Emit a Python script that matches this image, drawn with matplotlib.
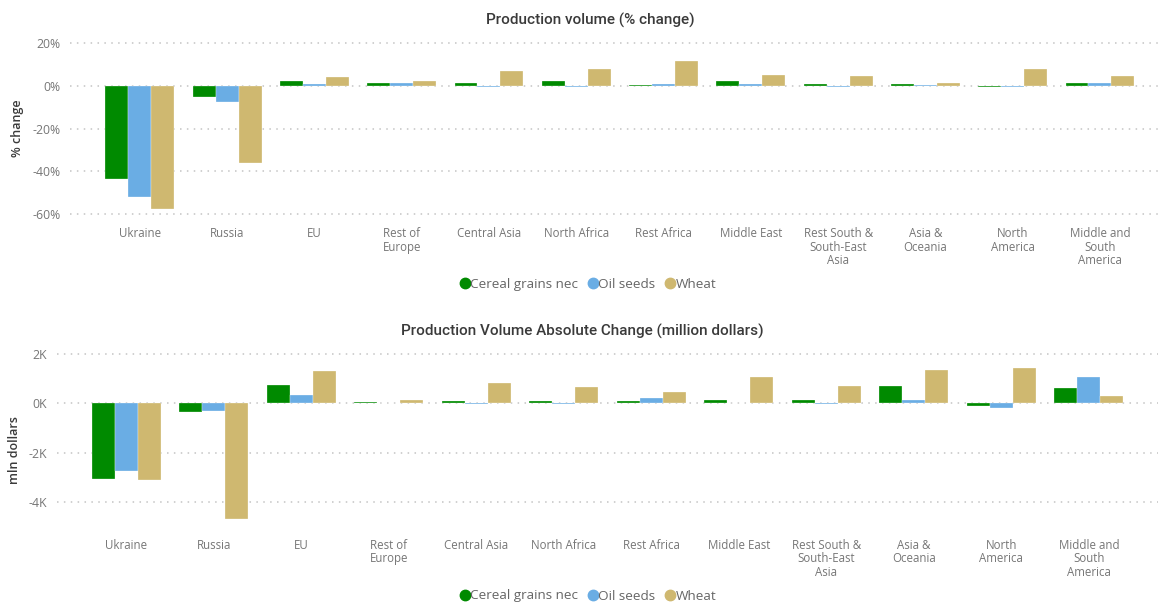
import numpy as np
import matplotlib
matplotlib.use("Agg")
import matplotlib.pyplot as plt
from matplotlib.lines import Line2D

# === 0. Data ===
regions = ["Ukraine", "Russia", "EU", "Rest of\nEurope", "Central Asia", "North Africa",
           "Rest Africa", "Middle East", "Rest South &\nSouth-East\nAsia", "Asia &\nOceania",
           "North\nAmerica", "Middle and\nSouth\nAmerica"]
series = ["Cereal grains nec", "Oil seeds", "Wheat"]

# production volume, % change
pct_cereal = [-43.7, -5.3, 2.5, 1.6, 1.4, 2.3, 0.5, 2.5, 1.1, 0.8, -0.4, 1.6]
pct_oil = [-51.9, -7.5, 1.1, 1.6, -0.3, -0.3, 0.8, 0.8, -0.3, 0.5, -0.3, 1.4]
pct_wheat = [-57.7, -35.9, 4.4, 2.3, 6.9, 8.1, 11.6, 5.0, 4.7, 1.6, 8.0, 4.7]

# absolute change, million dollars (in thousands)
abs_cereal = [-3.07, -0.34, 0.75, 0.07, 0.10, 0.10, 0.10, 0.12, 0.15, 0.72, -0.12, 0.61]
abs_oil = [-2.72, -0.31, 0.32, 0.02, -0.03, -0.03, 0.22, 0.02, -0.03, 0.15, -0.20, 1.05]
abs_wheat = [-3.11, -4.66, 1.30, 0.12, 0.82, 0.65, 0.45, 1.08, 0.72, 1.37, 1.43, 0.28]

pct_ticks = [-60, -40, -20, 0, 20]
abs_ticks = [-4, -2, 0, 2]

colors = ["#008A00", "#6AADE4", "#CFB870"]
grid_col = "#c4c4c4"
tick_col = "#767676"
title_col = "#3a3a3a"

plt.rcParams["font.family"] = ["Open Sans", "DejaVu Sans"]

W, H = 1158, 603
fig = plt.figure(figsize=(W / 100, H / 100), dpi=100)


def px(x0, y_top, x1, y_bot):
    # pixel box -> figure fraction rectangle
    return [x0 / W, 1 - y_bot / H, (x1 - x0) / W, (y_bot - y_top) / H]


def draw_panel(ax, data, ticks, fmt, xlim, ylim, label_pad):
    x = np.arange(len(regions))
    bw = 0.263
    for i, (vals, c) in enumerate(zip(data, colors)):
        ax.bar(x + (i - 1) * bw, vals, width=bw, color=c, zorder=3,
               edgecolor="white", linewidth=0.2)
    ax.set_xlim(*xlim)
    ax.set_ylim(*ylim)
    ax.set_yticks(ticks)
    ax.set_yticklabels([fmt(t) for t in ticks])
    ax.set_xticks(x)
    ax.set_xticklabels(regions, multialignment="center", linespacing=1.05)
    ax.tick_params(length=0, colors=tick_col, labelsize=8.3)
    ax.tick_params(axis="y", pad=7, labelsize=8.8)
    ax.tick_params(axis="x", pad=label_pad)
    ax.yaxis.grid(True, color=grid_col, linestyle=(0, (1, 3.5)), linewidth=1.1, zorder=0)
    for s in ax.spines.values():
        s.set_visible(False)


def add_legend(y):
    handles = [Line2D([], [], marker="o", linestyle="", color=c, markersize=7.5) for c in colors]
    fig.legend(handles, series, loc="center", bbox_to_anchor=(587 / W, 1 - y / H),
               ncol=3, frameon=False, handletextpad=-0.1, columnspacing=0.6,
               handlelength=1.0, fontsize=9.7, labelcolor="#666666")


# === 1. Top panel: % change ===
ax1 = fig.add_axes(px(70, 41.2, 1158, 216.1))
draw_panel(ax1, [pct_cereal, pct_oil, pct_wheat], pct_ticks,
           lambda t: f"{t}%", (-0.80, 11.665), (-61, 21), 8)
fig.text(590 / W, 1 - 20 / H, "Production volume (% change)", ha="center", va="center",
         fontsize=11, color=title_col, family=["Roboto", "DejaVu Sans"], weight="medium")
fig.text(17 / W, 1 - 128 / H, "% change", rotation=90, ha="center", va="center",
         fontsize=9, color=title_col, weight="semibold")
add_legend(284)

# === 2. Bottom panel: absolute change ===
ax2 = fig.add_axes(px(57, 351.5, 1158, 520.8))
draw_panel(ax2, [abs_cereal, abs_oil, abs_wheat], abs_ticks,
           lambda t: f"{t}K", (-0.79, 11.79), (-4.75, 2.1), 13)
fig.text(582 / W, 1 - 331 / H, "Production Volume Absolute Change (million dollars)",
         ha="center", va="center", fontsize=11, color=title_col,
         family=["Roboto", "DejaVu Sans"], weight="medium")
fig.text(15 / W, 1 - 450 / H, "mln dollars", rotation=90, ha="center", va="center",
         fontsize=9, color=title_col, weight="semibold")
add_legend(596)

fig.savefig("out.png", dpi=100, facecolor="white")
